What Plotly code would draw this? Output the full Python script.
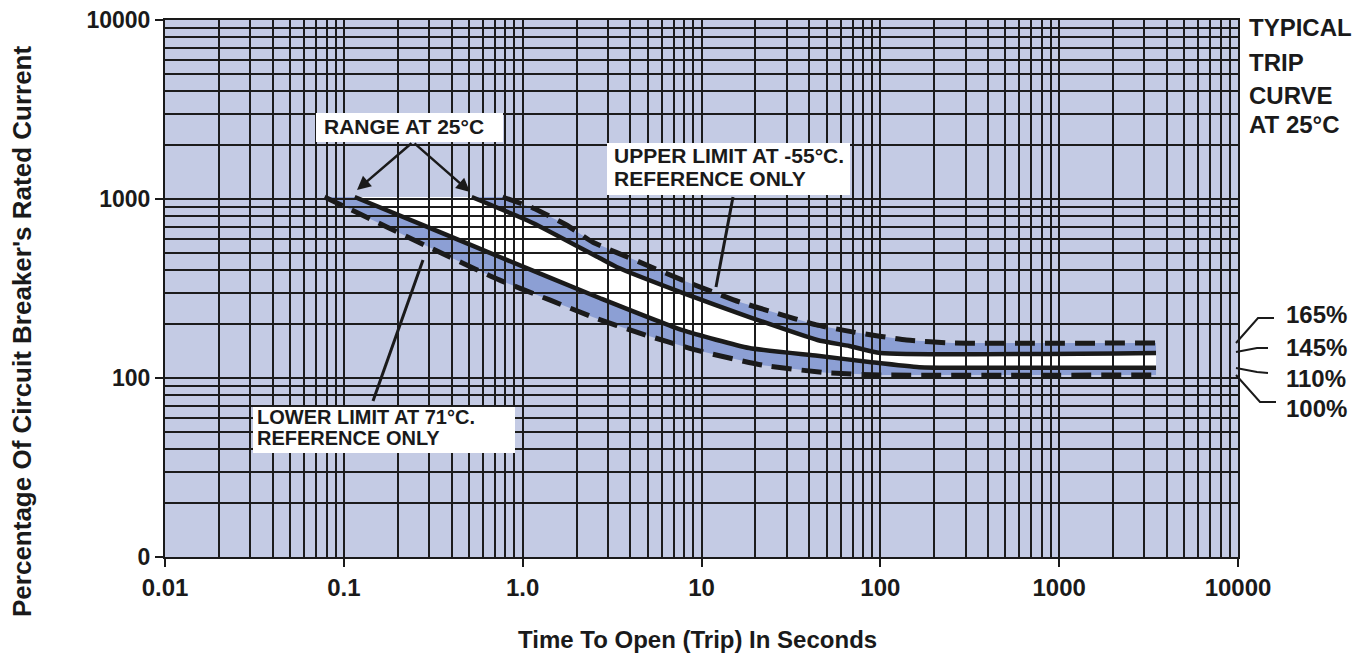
import plotly.graph_objects as go

# ---------------- data ----------------
# Lower limit at 71°C (reference only) - dashed
t_low71 = [0.078, 0.174, 0.391, 0.745, 1.415, 2.46, 4.51, 9.37, 21.9, 49.9, 100, 3480]
p_low71 = [1026, 698, 474, 352, 273, 219, 178, 143, 118, 107, 104, 104]
# Range at 25°C - lower edge (solid)
t_r25_low = [0.115, 0.314, 0.745, 2.69, 7.83, 18.5, 44.5, 86.9, 165, 300, 3480]
p_r25_low = [1026, 679, 474, 280, 185, 147, 133, 123, 115, 114, 114]
# Range at 25°C - upper edge (solid)
t_r25_up = [0.519, 1.14, 2.69, 3.35, 7.83, 18.5, 44.5, 67.1, 100, 3480]
p_r25_up = [1026, 735, 468, 417, 299, 219, 163, 151, 138, 138]
# Upper limit at -55°C (reference only) - dashed
t_up55 = [0.773, 1.14, 1.76, 2.46, 4.51, 7.83, 16.3, 24.9, 43.9, 69.8, 140, 252, 3480]
p_up55 = [1026, 891, 716, 575, 444, 352, 266, 234, 198, 181, 163, 157, 157]

x_tickvals = [0.01, 0.1, 1, 10, 100, 1000, 10000]
x_ticktext = ["0.01", "0.1", "1.0", "10", "100", "1000", "10000"]
y_tickvals = [10, 100, 1000, 10000]
y_ticktext = ["0", "100", "1000", "10000"]

pct_labels = ["165%", "145%", "110%", "100%"]
side_title = ["TYPICAL", "TRIP", "CURVE", "AT 25°C"]

# ---------------- styling ----------------
OFF = 8                      # page body margin of the browser
W, H = 1364 - OFF, 655 - OFF
PL, PR, PT, PB = 165, 1238, 20, 557     # plot box in screen pixels
L, R, T, B = PL - OFF, W - (PR - OFF), PT - OFF, H - (PB - OFF)
FONT = "Liberation Sans, Arial, Helvetica, sans-serif"
LAV = "#C4CBE4"
BAND = "#8C9FD4"
GRID = "#1C1C1C"
INK = "#1A1A1A"


def px(x):
    return (x - PL) / (PR - PL)


def py(y):
    return (PB - y) / (PB - PT)


fig = go.Figure()

# fills (subplot 1, under the grid)
fills = [
    (t_low71 + t_r25_low[::-1], p_low71 + p_r25_low[::-1], BAND),
    (t_r25_low + t_r25_up[::-1], p_r25_low + p_r25_up[::-1], "#FFFFFF"),
    (t_r25_up + t_up55[::-1], p_r25_up + p_up55[::-1], BAND),
]
for fx, fy, col in fills:
    fig.add_trace(go.Scatter(x=fx, y=fy, mode="lines", fill="toself", fillcolor=col,
                             line=dict(width=0, color=col), hoverinfo="skip",
                             xaxis="x", yaxis="y", showlegend=False))

# curves (subplot 2, above the grid)
curves = [
    (t_low71, p_low71, "20px,10px", 5),
    (t_r25_low, p_r25_low, "solid", 4.5),
    (t_r25_up, p_r25_up, "solid", 4.5),
    (t_up55, p_up55, "20px,10px", 5),
]
for cx, cy, dash, w in curves:
    fig.add_trace(go.Scatter(x=cx, y=cy, mode="lines",
                             line=dict(color=INK, width=w, dash=dash, shape="spline", smoothing=0.5),
                             hoverinfo="skip", xaxis="x2", yaxis="y2", showlegend=False))

grid_common = dict(type="log", showgrid=True, gridcolor=GRID, gridwidth=1.7,
                   minor=dict(dtick="D1", showgrid=True, gridcolor=GRID, gridwidth=1.7, ticks=""),
                   showline=True, mirror=True, linecolor=INK, linewidth=2,
                   ticks="outside", ticklen=8, tickwidth=2, tickcolor=INK,
                   tickmode="array", automargin=False, zeroline=False,
                   ticklabeloverflow="allow")

fig.update_layout(
    width=W, height=H,
    margin=dict(l=L, r=R, t=T, b=B, pad=0),
    paper_bgcolor="white",
    plot_bgcolor="rgba(0,0,0,0)",
    showlegend=False,
    xaxis=dict(type="log", range=[-2, 4], domain=[0, 1], anchor="y", visible=False, fixedrange=True),
    yaxis=dict(type="log", range=[1, 4], domain=[0, 1], anchor="x", visible=False, fixedrange=True),
    xaxis2=dict(range=[-2, 4], domain=[0, 1], anchor="y2",
                tickfont=dict(family=FONT, size=24, color=INK),
                tickvals=x_tickvals, ticktext=["<b>%s</b>" % t for t in x_ticktext], **grid_common),
    yaxis2=dict(range=[1, 4], domain=[0, 1], anchor="x2",
                tickfont=dict(family=FONT, size=23, color=INK),
                tickvals=y_tickvals, ticktext=["<b>%s</b>" % t for t in y_ticktext], **grid_common),
)

shapes = []
# plot background
shapes.append(dict(type="rect", xref="paper", yref="paper", x0=0, x1=1, y0=0, y1=1,
                   fillcolor=LAV, line=dict(width=0), layer="below"))
# label boxes
for x0, x1, y0, y1 in [(316, 503, 113, 142), (607, 850, 143, 195), (253, 515, 407, 453)]:
    shapes.append(dict(type="rect", xref="paper", yref="paper", x0=px(x0), x1=px(x1),
                       y0=py(y1), y1=py(y0), fillcolor="white", line=dict(width=0), layer="above"))
# pointer lines
for (xa, ya), (xb, yb) in [((733, 197), (716, 287)), ((423, 260), (373, 401))]:
    shapes.append(dict(type="line", xref="paper", yref="paper", x0=px(xa), y0=py(ya),
                       x1=px(xb), y1=py(yb), line=dict(color=INK, width=3), layer="above"))
# right-side connector lines
for pts in [[(1236, 343), (1258, 318), (1274, 318)],
            [(1236, 352), (1257, 348), (1268, 348)],
            [(1236, 368), (1257, 372), (1268, 373)],
            [(1236, 375), (1260, 402), (1276, 402)]]:
    path = "M %f %f" % (px(pts[0][0]), py(pts[0][1]))
    for (a, b) in pts[1:]:
        path += " L %f %f" % (px(a), py(b))
    shapes.append(dict(type="path", xref="paper", yref="paper", path=path,
                       line=dict(color=INK, width=2), layer="above"))
fig.update_layout(shapes=shapes)

ann = []


def text(x, y, s, size, xanchor="left", angle=0):
    ann.append(dict(xref="paper", yref="paper", x=px(x), y=py(y), text="<b>%s</b>" % s,
                    showarrow=False, xanchor=xanchor, yanchor="middle", textangle=angle,
                    font=dict(family=FONT, size=size, color=INK)))


text(322, 127, "RANGE AT 25°C", 21)
text(612, 156, "UPPER LIMIT AT -55°C.", 21)
text(612, 179, "REFERENCE ONLY", 21)
text(255, 417, "LOWER LIMIT AT 71°C.", 20)
text(255, 438, "REFERENCE ONLY", 20)
for s, yy in zip(side_title, [27, 62, 95, 124]):
    text(1247, yy, s, 24)
for s, yy in zip(pct_labels, [315, 347, 378, 408]):
    text(1284, yy, s, 24)
text(697, 640, "Time To Open (Trip) In Seconds", 24, xanchor="center")
text(22, 332, "Percentage Of Circuit Breaker's Rated Current", 26, xanchor="center", angle=-90)

# range arrows
for hx, hy in [(357, 190), (470, 192)]:
    ann.append(dict(xref="paper", yref="paper", x=px(hx), y=py(hy), text="",
                    showarrow=True, arrowhead=2, arrowsize=1.1, arrowwidth=2.5, arrowcolor=INK,
                    ax=413 - hx, ay=142 - hy, standoff=0, startstandoff=0))
fig.update_layout(annotations=ann)

fig.write_html("out.html")
